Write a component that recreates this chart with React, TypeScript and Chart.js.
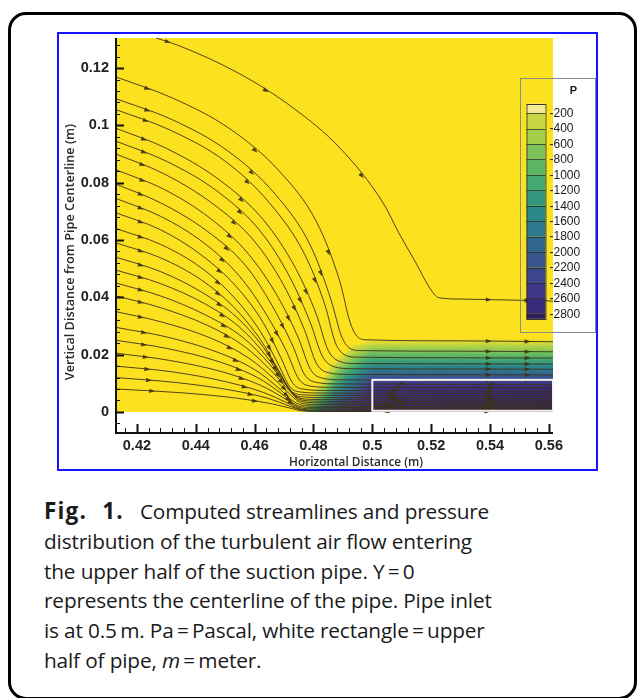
import React, { useEffect, useRef } from 'react';
import { Chart, registerables } from 'chart.js';

Chart.register(...registerables);
Chart.defaults.font.family = '"Liberation Sans", Arial, Helvetica, sans-serif';

// ---------------- axes ----------------
const X_RANGE = [0.4129, 0.5614];
const Y_RANGE = [-0.007, 0.1305];
const X_TICKS = [0.42, 0.44, 0.46, 0.48, 0.5, 0.52, 0.54, 0.56];
const X_TICK_LABELS = ['0.42', '0.44', '0.46', '0.48', '0.5', '0.52', '0.54', '0.56'];
const Y_TICKS = [0, 0.02, 0.04, 0.06, 0.08, 0.1, 0.12];
const Y_TICK_LABELS = ['0', '0.02', '0.04', '0.06', '0.08', '0.1', '0.12'];
const X_MINOR_TICKS = [0.416, 0.424, 0.428, 0.432, 0.436, 0.444, 0.448, 0.452, 0.456, 0.464, 0.468, 0.472, 0.476,
  0.484, 0.488, 0.492, 0.496, 0.504, 0.508, 0.512, 0.516, 0.524, 0.528, 0.532, 0.536, 0.544, 0.548, 0.552, 0.556];
const Y_MINOR_TICKS = [-0.004, 0.004, 0.008, 0.012, 0.016, 0.024, 0.028, 0.032, 0.036, 0.044, 0.048, 0.052, 0.056,
  0.064, 0.068, 0.072, 0.076, 0.084, 0.088, 0.092, 0.096, 0.104, 0.108, 0.112, 0.116, 0.124, 0.128];
const X_TITLE = 'Horizontal Distance (m)';
const Y_TITLE = 'Vertical Distance from Pipe Centerline (m)';

// ---------------- domain & pipe ----------------
const FIELD_X = [0.4129, 0.5614];
const FIELD_Y = [0, 0.1305];
const PIPE_X = [0.5, 0.5614];
const PIPE_Y = [0.0004, 0.0112];

// ---------------- pressure field (Pa) ----------------
const P_X = [0.4729, 0.4765, 0.48, 0.4835, 0.487, 0.4905, 0.495, 0.5, 0.53, 0.5614];
const P_Y = [0, 0.003, 0.006, 0.009, 0.012, 0.015, 0.018, 0.021, 0.024, 0.027];
const P_ROW_0 = [0, -300, -1200, -1800, -2200, -2450, -2600, -2680, -2720, -2820];
const P_ROW_1 = [0, -50, -600, -1300, -1900, -2250, -2480, -2660, -2700, -2800];
const P_ROW_2 = [0, 0, -150, -750, -1500, -1950, -2300, -2620, -2660, -2760];
const P_ROW_3 = [0, 0, 0, -350, -1100, -1600, -2000, -2540, -2580, -2660];
const P_ROW_4 = [0, 0, 0, -100, -700, -1200, -1650, -2150, -2150, -2150];
const P_ROW_5 = [0, 0, 0, 0, -350, -800, -1250, -1650, -1650, -1650];
const P_ROW_6 = [0, 0, 0, 0, -100, -400, -850, -1150, -1150, -1150];
const P_ROW_7 = [0, 0, 0, 0, 0, -100, -450, -700, -700, -700];
const P_ROW_8 = [0, 0, 0, 0, 0, 0, -100, -250, -250, -250];
const P_ROW_9 = [0, 0, 0, 0, 0, 0, 0, 0, 0, 0];
const P_ROWS = [P_ROW_0, P_ROW_1, P_ROW_2, P_ROW_3, P_ROW_4, P_ROW_5, P_ROW_6, P_ROW_7, P_ROW_8, P_ROW_9];

// ---------------- contour legend ----------------
const LEGEND_TITLE = 'P';
const LEVEL_LABELS = ['-200', '-400', '-600', '-800', '-1000', '-1200', '-1400', '-1600', '-1800', '-2000', '-2200', '-2400', '-2600', '-2800'];
const LEVEL_VALUES = [-200, -400, -600, -800, -1000, -1200, -1400, -1600, -1800, -2000, -2200, -2400, -2600, -2800];
const FIELD_YELLOW = [252, 225, 30];
const LEGEND_TOP_COLOR = [243, 234, 150];
const BAND_COLORS = [
  [199, 214, 66], [164, 206, 72], [125, 194, 88], [94, 182, 100], [70, 168, 113], [52, 152, 126], [43, 136, 136],
  [44, 120, 140], [50, 103, 141], [56, 86, 141], [60, 70, 140], [62, 54, 134], [56, 42, 120], [44, 30, 94],
];

// ---------------- streamlines [x (m), y (m)] ----------------
const S00 = [[0.4265, 0.1305], [0.4336, 0.1281], [0.4544, 0.1183], [0.4731, 0.1061], [0.489, 0.0921], [0.5037, 0.0729], [0.509, 0.0625], [0.5146, 0.0524], [0.52, 0.0425], [0.5225, 0.0399], [0.53, 0.0394], [0.5614, 0.0387]];
const S01 = [[0.4129, 0.1169], [0.432, 0.1096], [0.4516, 0.0988], [0.4686, 0.0838], [0.4812, 0.066], [0.489, 0.0454], [0.4924, 0.0314], [0.4945, 0.0268], [0.4975, 0.0252], [0.53, 0.0248], [0.5614, 0.0245]];
const S02 = [[0.4129, 0.1093], [0.432, 0.102], [0.451, 0.091], [0.467, 0.076], [0.479, 0.058], [0.486, 0.039], [0.4895, 0.0265], [0.492, 0.0225], [0.496, 0.0214], [0.53, 0.0212], [0.5614, 0.021]];
const S03 = [[0.4129, 0.1055], [0.431, 0.0985], [0.45, 0.0875], [0.465, 0.073], [0.477, 0.055], [0.484, 0.037], [0.4875, 0.024], [0.4905, 0.02], [0.495, 0.0191], [0.53, 0.0189], [0.5614, 0.0188]];
const S04 = [[0.4129, 0.099], [0.43, 0.092], [0.448, 0.081], [0.463, 0.067], [0.474, 0.05], [0.481, 0.034], [0.485, 0.0215], [0.489, 0.0176], [0.494, 0.0169], [0.53, 0.0168], [0.5614, 0.0167]];
const S05 = [[0.4129, 0.0945], [0.43, 0.0875], [0.448, 0.0765], [0.462, 0.063], [0.472, 0.047], [0.479, 0.031], [0.483, 0.0195], [0.487, 0.0158], [0.493, 0.0151], [0.53, 0.015], [0.5614, 0.0149]];
const S06 = [[0.4129, 0.09], [0.429, 0.0832], [0.446, 0.0725], [0.46, 0.0595], [0.47, 0.044], [0.477, 0.0285], [0.481, 0.017], [0.485, 0.0137], [0.492, 0.0131], [0.53, 0.013], [0.5614, 0.0129]];
const S07 = [[0.4129, 0.0845], [0.429, 0.0778], [0.445, 0.0675], [0.458, 0.055], [0.468, 0.04], [0.475, 0.0255], [0.479, 0.0148], [0.483, 0.0118], [0.49, 0.0112], [0.53, 0.0111], [0.5614, 0.011]];
const S08 = [[0.4129, 0.0795], [0.428, 0.073], [0.444, 0.063], [0.457, 0.051], [0.466, 0.037], [0.473, 0.023], [0.477, 0.013], [0.481, 0.0103], [0.488, 0.0098], [0.5614, 0.0096]];
const S09 = [[0.4129, 0.0745], [0.428, 0.0683], [0.443, 0.0588], [0.455, 0.0472], [0.464, 0.034], [0.471, 0.0208], [0.475, 0.0115], [0.479, 0.009], [0.486, 0.0086], [0.5614, 0.0084]];
const S10 = [[0.4129, 0.0695], [0.428, 0.0636], [0.442, 0.0547], [0.454, 0.0435], [0.463, 0.031], [0.469, 0.0188], [0.473, 0.01], [0.477, 0.0079], [0.484, 0.0075], [0.5614, 0.0073]];
const S11 = [[0.4129, 0.064], [0.428, 0.0585], [0.442, 0.0502], [0.453, 0.04], [0.462, 0.028], [0.468, 0.0168], [0.472, 0.0088], [0.476, 0.0069], [0.483, 0.0066], [0.5614, 0.0064]];
const S12 = [[0.4129, 0.059], [0.428, 0.0538], [0.442, 0.046], [0.453, 0.0365], [0.462, 0.0252], [0.468, 0.0148], [0.472, 0.0077], [0.476, 0.006], [0.483, 0.0058], [0.5614, 0.0056]];
const S13 = [[0.4129, 0.054], [0.428, 0.049], [0.442, 0.0418], [0.454, 0.033], [0.463, 0.0225], [0.469, 0.0128], [0.473, 0.0065], [0.477, 0.0052], [0.484, 0.005], [0.5614, 0.0048]];
const S14 = [[0.4129, 0.0495], [0.428, 0.0448], [0.443, 0.0378], [0.455, 0.0295], [0.464, 0.0195], [0.47, 0.0108], [0.4745, 0.0052], [0.479, 0.0044], [0.486, 0.0043], [0.5614, 0.0041]];
const S15 = [[0.4129, 0.045], [0.428, 0.0405], [0.443, 0.034], [0.456, 0.026], [0.465, 0.0168], [0.471, 0.009], [0.475, 0.0045], [0.48, 0.0038], [0.487, 0.0037], [0.5614, 0.0035]];
const S16 = [[0.4129, 0.0405], [0.428, 0.0364], [0.444, 0.0302], [0.457, 0.0225], [0.466, 0.014], [0.472, 0.0072], [0.4755, 0.0038], [0.481, 0.0032], [0.488, 0.0031], [0.5614, 0.003]];
const S17 = [[0.4129, 0.035], [0.428, 0.0315], [0.445, 0.0258], [0.458, 0.0188], [0.467, 0.0112], [0.473, 0.0052], [0.476, 0.003], [0.482, 0.0026], [0.5614, 0.0024]];
const S18 = [[0.4129, 0.0295], [0.43, 0.0262], [0.447, 0.021], [0.46, 0.0148], [0.468, 0.0085], [0.4735, 0.0035], [0.477, 0.0022], [0.483, 0.002], [0.5614, 0.0019]];
const S19 = [[0.4129, 0.025], [0.43, 0.0222], [0.448, 0.0175], [0.461, 0.012], [0.469, 0.0065], [0.474, 0.0025], [0.478, 0.0016], [0.5614, 0.0014]];
const S20 = [[0.4129, 0.0205], [0.431, 0.018], [0.449, 0.014], [0.462, 0.0093], [0.47, 0.0048], [0.4745, 0.0018], [0.479, 0.0011], [0.5614, 0.001]];
const S21 = [[0.4129, 0.016], [0.432, 0.014], [0.45, 0.0106], [0.463, 0.0068], [0.471, 0.0032], [0.475, 0.0012], [0.48, 0.0007], [0.5614, 0.0007]];
const S22 = [[0.4129, 0.012], [0.433, 0.0103], [0.452, 0.0076], [0.465, 0.0046], [0.472, 0.002], [0.4755, 0.0008], [0.481, 0.0004], [0.5614, 0.0004]];
const S23 = [[0.4129, 0.008], [0.435, 0.0067], [0.454, 0.0048], [0.466, 0.0028], [0.473, 0.0011], [0.476, 0.0004], [0.482, 0.0002], [0.5614, 0.0002]];
const STREAMLINES = [S00, S01, S02, S03, S04, S05, S06, S07, S08, S09, S10, S11, S12, S13, S14, S15, S16, S17, S18, S19, S20, S21, S22, S23];

const LINE_COLOR = 'rgba(62,50,22,0.9)';

// ---------------- helpers ----------------
const rgb = (c: number[]) => `rgb(${c[0]},${c[1]},${c[2]})`;

function locate(arr: number[], v: number): [number, number] {
  const n = arr.length;
  if (v <= arr[0]) return [0, 0];
  if (v >= arr[n - 1]) return [n - 2, 1];
  let i = 0;
  while (v > arr[i + 1]) i++;
  return [i, (v - arr[i]) / (arr[i + 1] - arr[i])];
}

function sampleP(xv: number, yv: number) {
  const [c, tx] = locate(P_X, xv);
  const [r, ty] = locate(P_Y, yv);
  const a = P_ROWS[r][c], b = P_ROWS[r][c + 1], d = P_ROWS[r + 1][c], e = P_ROWS[r + 1][c + 1];
  return (a * (1 - tx) + b * tx) * (1 - ty) + (d * (1 - tx) + e * tx) * ty;
}

function colorFor(v: number): number[] {
  const stops = [-100, ...LEVEL_VALUES.map((l) => l - 100)];
  const cols = [FIELD_YELLOW, ...BAND_COLORS];
  if (v >= stops[0]) return FIELD_YELLOW;
  for (let k = 0; k < stops.length - 1; k++) {
    if (v >= stops[k + 1]) {
      const t = (stops[k] - v) / (stops[k] - stops[k + 1]);
      const c0 = cols[k], c1 = cols[k + 1];
      return [c0[0] + (c1[0] - c0[0]) * t, c0[1] + (c1[1] - c0[1]) * t, c0[2] + (c1[2] - c0[2]) * t];
    }
  }
  return cols[cols.length - 1];
}

const fieldPlugin = {
  id: 'pressureField',
  beforeDatasetsDraw(chart: any) {
    const { ctx, chartArea, scales } = chart;
    const xs = scales.x, ys = scales.y;
    ctx.save();
    ctx.beginPath();
    ctx.rect(chartArea.left, chartArea.top, chartArea.right - chartArea.left, chartArea.bottom - chartArea.top);
    ctx.clip();
    const fx0 = xs.getPixelForValue(FIELD_X[0]), fx1 = xs.getPixelForValue(FIELD_X[1]);
    const fy0 = ys.getPixelForValue(FIELD_Y[0]), fy1 = ys.getPixelForValue(FIELD_Y[1]);
    ctx.fillStyle = rgb(FIELD_YELLOW);
    ctx.fillRect(fx0, fy1, fx1 - fx0, fy0 - fy1);

    const gx0 = Math.floor(xs.getPixelForValue(P_X[0]));
    const gx1 = Math.ceil(xs.getPixelForValue(P_X[P_X.length - 1]));
    const gy0 = Math.floor(ys.getPixelForValue(P_Y[P_Y.length - 1]));
    const gy1 = Math.round(ys.getPixelForValue(P_Y[0]));
    const w = gx1 - gx0, h = gy1 - gy0;
    const off = document.createElement('canvas');
    off.width = w; off.height = h;
    const octx = off.getContext('2d') as CanvasRenderingContext2D;
    const img = octx.createImageData(w, h);
    for (let j = 0; j < h; j++) {
      const yv = ys.getValueForPixel(gy0 + j + 0.5);
      for (let i = 0; i < w; i++) {
        const xv = xs.getValueForPixel(gx0 + i + 0.5);
        const c = colorFor(sampleP(xv, yv));
        const k = (j * w + i) * 4;
        img.data[k] = c[0]; img.data[k + 1] = c[1]; img.data[k + 2] = c[2]; img.data[k + 3] = 255;
      }
    }
    octx.putImageData(img, 0, 0);
    ctx.drawImage(off, gx0, gy0);
    ctx.restore();
  },
};

function drawArrow(ctx: CanvasRenderingContext2D, x: number, y: number, ang: number) {
  ctx.save();
  ctx.translate(x, y);
  ctx.rotate(ang);
  ctx.beginPath();
  ctx.moveTo(3.4, 0);
  ctx.lineTo(-2.5, 2.2);
  ctx.lineTo(-2.5, -2.2);
  ctx.closePath();
  ctx.fill();
  ctx.restore();
}

const overlayPlugin = {
  id: 'overlay',
  afterDatasetsDraw(chart: any) {
    const { ctx, chartArea, scales } = chart;
    const xs = scales.x, ys = scales.y;

    ctx.save();
    ctx.beginPath();
    ctx.rect(chartArea.left, chartArea.top, chartArea.right - chartArea.left, chartArea.bottom - chartArea.top);
    ctx.clip();
    ctx.fillStyle = LINE_COLOR;
    chart.data.datasets.forEach((_: any, di: number) => {
      const pts = chart.getDatasetMeta(di).data;
      const n = pts.length;
      const put = (k: number, f: number) => {
        if (k < 0 || k >= n - 1) return;
        const a = pts[k], b = pts[k + 1];
        const len = Math.hypot(b.x - a.x, b.y - a.y);
        if (len < 14) return;
        drawArrow(ctx, a.x + (b.x - a.x) * f, a.y + (b.y - a.y) * f, Math.atan2(b.y - a.y, b.x - a.x));
      };
      put(0, 0.55);
      put(2, 0.5);
      put(4, 0.5);
      put(n - 2, 0.3);
      put(n - 2, 0.72);
    });
    ctx.restore();

    const px0 = xs.getPixelForValue(PIPE_X[0]), px1 = xs.getPixelForValue(PIPE_X[1]);
    const py0 = ys.getPixelForValue(PIPE_Y[0]), py1 = ys.getPixelForValue(PIPE_Y[1]);
    ctx.save();
    ctx.strokeStyle = '#f4f4f4';
    ctx.lineWidth = 2;
    ctx.strokeRect(px0, py1, px1 - px0, py0 - py1);
    ctx.restore();
  },
  afterDraw(chart: any) {
    const { ctx, chartArea, scales } = chart;
    const xs = scales.x, ys = scales.y;
    const L = chartArea.left, B = chartArea.bottom;
    ctx.save();
    ctx.strokeStyle = '#111';
    ctx.lineWidth = 2;
    ctx.beginPath();
    ctx.moveTo(L, ys.getPixelForValue(Y_RANGE[1]));
    ctx.lineTo(L, B + 1);
    ctx.lineTo(xs.getPixelForValue(X_RANGE[1]), B + 1);
    ctx.stroke();
    ctx.lineWidth = 2;
    ctx.beginPath();
    X_TICKS.forEach((v) => { const p = Math.round(xs.getPixelForValue(v)) + 0.5; ctx.moveTo(p, B); ctx.lineTo(p, B - 8); });
    Y_TICKS.forEach((v) => { const p = Math.round(ys.getPixelForValue(v)) + 0.5; ctx.moveTo(L, p); ctx.lineTo(L + 8, p); });
    ctx.stroke();
    ctx.lineWidth = 1;
    ctx.beginPath();
    X_MINOR_TICKS.forEach((v) => { const p = Math.round(xs.getPixelForValue(v)) + 0.5; ctx.moveTo(p, B); ctx.lineTo(p, B - 4); });
    Y_MINOR_TICKS.forEach((v) => { const p = Math.round(ys.getPixelForValue(v)) + 0.5; ctx.moveTo(L, p); ctx.lineTo(L + 4, p); });
    ctx.stroke();

    ctx.fillStyle = '#2a2a2a';
    ctx.textAlign = 'center';
    ctx.textBaseline = 'middle';
    ctx.font = '600 11.8px "Open Sans", "Liberation Sans", sans-serif';
    ctx.fillText(X_TITLE, L + 240, B + 31);
    ctx.save();
    ctx.translate(L - 46, chartArea.top + 214);
    ctx.rotate(-Math.PI / 2);
    ctx.font = '600 12.7px "Open Sans", "Liberation Sans", sans-serif';
    ctx.fillText(Y_TITLE, 0, 0);
    ctx.restore();

    const bx = chartArea.right - 32.5, by = chartArea.top + 40.5;
    ctx.strokeStyle = '#8a8a8a';
    ctx.lineWidth = 1;
    ctx.strokeRect(bx, by, 75, 254);
    const cx = bx + 6, cw = 19;
    const top = by + 25, step = 15.43, first = by + 34.7;
    const edges = [top, ...LEVEL_VALUES.map((_, i) => first + step * i), first + step * (LEVEL_VALUES.length - 1) + 5];
    const cols = [LEGEND_TOP_COLOR, ...BAND_COLORS];
    for (let k = 0; k < cols.length; k++) {
      ctx.fillStyle = rgb(cols[k]);
      ctx.fillRect(cx, edges[k], cw, edges[k + 1] - edges[k]);
    }
    ctx.strokeStyle = 'rgba(40,40,40,0.75)';
    ctx.beginPath();
    edges.forEach((e) => { ctx.moveTo(cx, Math.round(e) + 0.5); ctx.lineTo(cx + cw, Math.round(e) + 0.5); });
    ctx.stroke();
    ctx.strokeRect(cx + 0.5, Math.round(top) + 0.5, cw, Math.round(edges[edges.length - 1] - top));
    ctx.fillStyle = '#1a1a1a';
    ctx.textAlign = 'left';
    ctx.textBaseline = 'middle';
    ctx.font = '12px "Liberation Sans", Arial, sans-serif';
    LEVEL_LABELS.forEach((lab, i) => ctx.fillText(lab, cx + cw + 4, first + step * i + 0.5));
    ctx.textAlign = 'center';
    ctx.font = 'bold 11px "Liberation Sans", Arial, sans-serif';
    ctx.fillText(LEGEND_TITLE, bx + 53, by + 12);
    ctx.restore();
  },
};

export default function App() {
  const ref = useRef<HTMLCanvasElement>(null);
  useEffect(() => {
    if (!ref.current) return;
    const chart = new Chart(ref.current, {
      type: 'line',
      data: {
        datasets: STREAMLINES.map((pts) => ({
          data: pts.map(([x, y]) => ({ x, y })),
          borderColor: LINE_COLOR,
          borderWidth: 1,
          pointRadius: 0,
          fill: false,
          cubicInterpolationMode: 'monotone' as const,
        })),
      },
      options: {
        responsive: false,
        maintainAspectRatio: false,
        animation: false,
        events: [],
        layout: { padding: { top: 4, right: 43, left: 0, bottom: 0 } },
        plugins: { legend: { display: false }, tooltip: { enabled: false } },
        scales: {
          x: {
            type: 'linear',
            min: X_RANGE[0],
            max: X_RANGE[1],
            afterBuildTicks: (s: any) => { s.ticks = X_TICKS.map((v) => ({ value: v })); },
            afterFit: (s: any) => { s.height = 37; s.paddingLeft = 0; s.paddingRight = 0; },
            grid: { display: false, drawTicks: false },
            border: { display: false },
            ticks: {
              autoSkip: false,
              maxRotation: 0,
              padding: 5,
              color: '#222',
              font: { size: 14.5, weight: 'bold' },
              callback: (_v: any, i: number) => X_TICK_LABELS[i],
            },
          },
          y: {
            type: 'linear',
            min: Y_RANGE[0],
            max: Y_RANGE[1],
            afterBuildTicks: (s: any) => { s.ticks = Y_TICKS.map((v) => ({ value: v })); },
            afterFit: (s: any) => { s.width = 57; s.paddingTop = 0; s.paddingBottom = 0; },
            grid: { display: false, drawTicks: false },
            border: { display: false },
            ticks: {
              autoSkip: false,
              padding: 7,
              color: '#222',
              font: { size: 14.5, weight: 'bold' },
              callback: (_v: any, i: number) => Y_TICK_LABELS[i],
            },
          },
        },
      },
      plugins: [fieldPlugin, overlayPlugin],
    } as any);
    return () => chart.destroy();
  }, []);

  const eq = '\u2009=\u2009';
  return (
    <div style={{ position: 'absolute', left: 0, top: 0, width: 639, height: 698, overflow: 'hidden', background: '#fff' }}>
      <div style={{ position: 'absolute', left: 8, top: 12, width: 629, height: 688, border: '3px solid #000', borderRadius: 18, boxSizing: 'border-box' }} />
      <div style={{ position: 'absolute', left: 57, top: 32, width: 541, height: 439, border: '2px solid #1414ff', boxSizing: 'border-box', background: '#fff' }}>
        <canvas ref={ref} width={537} height={435} style={{ display: 'block', width: 537, height: 435 }} />
      </div>
      <div style={{ position: 'absolute', left: 44, top: 496, fontFamily: '"Open Sans", "Noto Sans", sans-serif', fontSize: 20.8, lineHeight: '29.8px', color: '#1a1a1a', whiteSpace: 'nowrap', letterSpacing: '-0.15px' }}>
        <div><b style={{ fontSize: 22.5, wordSpacing: '8px', letterSpacing: '1.2px' }}>Fig. 1.</b><span style={{ display: 'inline-block', width: 16 }} />Computed streamlines and pressure</div>
        <div>distribution of the turbulent air flow entering</div>
        <div>the upper half of the suction pipe. Y{eq}0</div>
        <div>represents the centerline of the pipe. Pipe inlet</div>
        <div>is at 0.5{'\u2009'}m. Pa{eq}Pascal, white rectangle{eq}upper</div>
        <div>half of pipe, <i>m</i>{eq}meter.</div>
      </div>
    </div>
  );
}
